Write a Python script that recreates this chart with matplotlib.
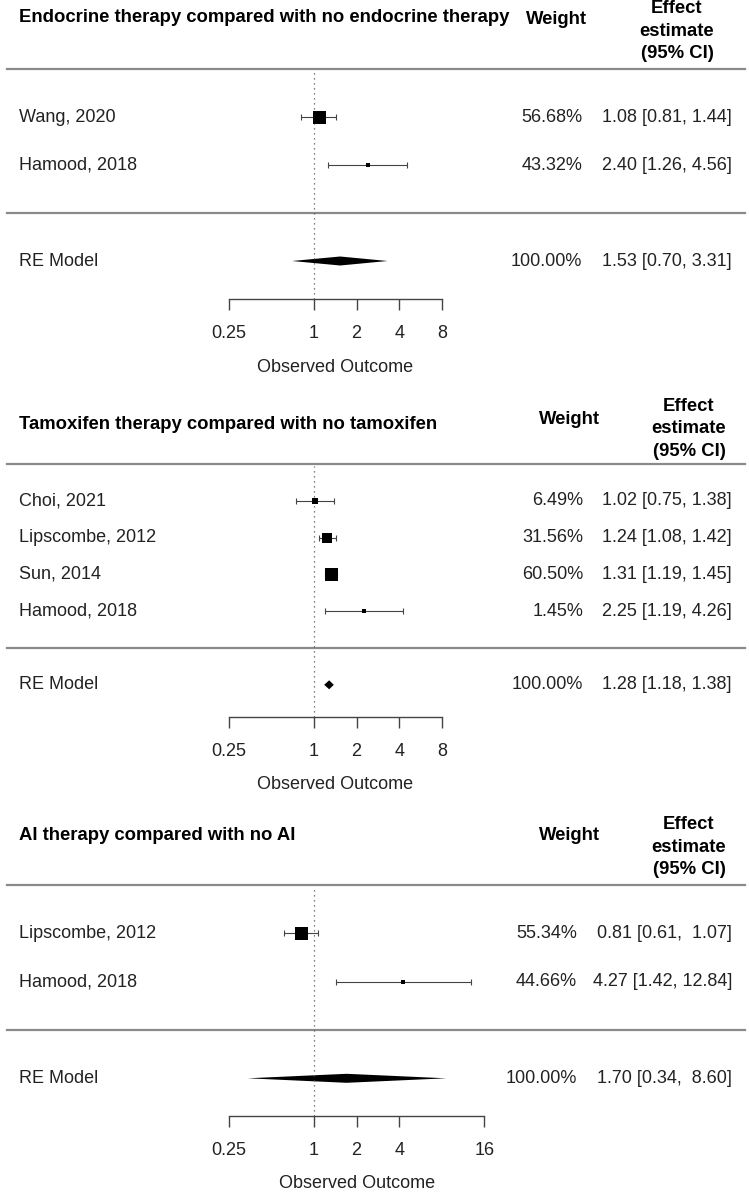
import matplotlib
matplotlib.use("Agg")
import matplotlib.pyplot as plt
import matplotlib.transforms as mtransforms
from matplotlib.patches import Polygon
from matplotlib.ticker import NullLocator
import numpy as np

plt.rcParams['font.family'] = ['Liberation Sans', 'DejaVu Sans']

W, H = 749, 1195
X_ONE = 314.0        # pixel column of x = 1
PX_PER_DOUBLING = 42.6

# ===========================
# Data
# ===========================
endo_title = "Endocrine therapy compared with no endocrine therapy"
endo_studies = ["Wang, 2020", "Hamood, 2018"]
endo_est = [1.08, 2.40]
endo_lo = [0.81, 1.26]
endo_hi = [1.44, 4.56]
endo_weight = [56.68, 43.32]
endo_re = [1.53, 0.70, 3.31]
endo_ticks = [0.25, 1, 2, 4, 8]

tam_title = "Tamoxifen therapy compared with no tamoxifen"
tam_studies = ["Choi, 2021", "Lipscombe, 2012", "Sun, 2014", "Hamood, 2018"]
tam_est = [1.02, 1.24, 1.31, 2.25]
tam_lo = [0.75, 1.08, 1.19, 1.19]
tam_hi = [1.38, 1.42, 1.45, 4.26]
tam_weight = [6.49, 31.56, 60.50, 1.45]
tam_re = [1.28, 1.18, 1.38]
tam_ticks = [0.25, 1, 2, 4, 8]

ai_title = "AI therapy compared with no AI"
ai_studies = ["Lipscombe, 2012", "Hamood, 2018"]
ai_est = [0.81, 4.27]
ai_lo = [0.61, 1.42]
ai_hi = [1.07, 12.84]
ai_weight = [55.34, 44.66]
ai_re = [1.70, 0.34, 8.60]
ai_ticks = [0.25, 1, 2, 4, 16]

# ===========================
# Layout (pixels)
# ===========================
layouts = [
    dict(top=0, bottom=380, y0=213, sp=48.0, axis=299, xlab=367,
         title_y=18, weight_x=556, weight_y=20, eff_x=677, eff_y=31, pct_x=582),
    dict(top=380, bottom=800, y0=648, sp=36.8, axis=717, xlab=785,
         title_y=425, weight_x=569, weight_y=420, eff_x=689, eff_y=429, pct_x=583),
    dict(top=800, bottom=1195, y0=1030, sp=48.3, axis=1116, xlab=1183,
         title_y=835, weight_x=569, weight_y=836, eff_x=689, eff_y=847, pct_x=577),
]

TEXT = '#222222'
FS = 13
FS_BOLD = 13.3

fig = plt.figure(figsize=(W / 100, H / 100), dpi=100)


def fmt_ci(est, lo, hi):
    """ R-style aligned 'est [lo, hi]' strings """
    e = [f"{v:.2f}" for v in est]
    l = [f"{v:.2f}" for v in lo]
    h = [f"{v:.2f}" for v in hi]
    we, wl, wh = max(map(len, e)), max(map(len, l)), max(map(len, h))
    return [f"{a.rjust(we)} [{b.rjust(wl)}, {c.rjust(wh)}]" for a, b, c in zip(e, l, h)]


def draw_panel(lay, title, studies, est, lo, hi, weight, re, ticks):
    top, bottom, y0, sp = lay['top'], lay['bottom'], lay['y0'], lay['sp']
    yd = lambda p: (y0 - p) / sp

    ax = fig.add_axes([0, 1 - bottom / H, 1, (bottom - top) / H])
    ax.patch.set_alpha(0)
    ax.set_xscale('log', base=2)
    for s in ['top', 'right', 'left']:
        ax.spines[s].set_visible(False)
    ax.set_yticks([])
    blend = mtransforms.blended_transform_factory(ax.transAxes, ax.transData)

    k = len(studies)
    ys = np.arange(k, 0, -1)
    est_a, lo_a, hi_a = np.array(est), np.array(lo), np.array(hi)
    w = np.sqrt(np.array(weight))

    # separators
    for yy in [k + 1, 0]:
        ax.axhline(yy, xmin=7 / W, xmax=745 / W, color='#8a8a8a', lw=1.6)

    # reference line at 1
    ax.plot([1, 1], [yd(lay['axis']), k + 0.95], ls=(0, (1, 3)), color='#555555', lw=0.9)

    # CIs and squares
    ax.errorbar(est_a, ys, xerr=[est_a - lo_a, hi_a - est_a], fmt='none',
                ecolor='#444444', elinewidth=0.8, capsize=2.4, capthick=0.8)
    sizes_px = 4.5 + (w - w.min()) / (w.max() - w.min()) * (13 - 4.5)
    for x, y, s in zip(est_a, ys, sizes_px):
        ax.plot(x, y, marker='s', ms=s * 0.72, color='black', mec='black', mew=0)

    # RE diamond
    h = 4.5 / sp
    ax.add_patch(Polygon([(re[1], -1), (re[0], -1 + h), (re[2], -1), (re[0], -1 - h)],
                         closed=True, color='black', lw=0))

    # left labels and right columns
    labels = studies + ["RE Model"]
    yrows = list(ys) + [-1]
    wtxt = [f"{v:.2f}%" for v in weight] + ["100.00%"]
    ctxt = fmt_ci(list(est) + [re[0]], list(lo) + [re[1]], list(hi) + [re[2]])
    for lab, y, wt, ct in zip(labels, yrows, wtxt, ctxt):
        ax.text(19 / W, y, lab, transform=blend, ha='left', va='center', fontsize=FS, color=TEXT)
        ax.text(lay['pct_x'] / W, y, wt, transform=blend, ha='right', va='center', fontsize=FS, color=TEXT)
        ax.text(732 / W, y, ct, transform=blend, ha='right', va='center', fontsize=FS, color=TEXT)

    # headers
    ax.text(19 / W, yd(lay['title_y']), title, transform=blend, ha='left', va='center',
            fontsize=FS_BOLD, fontweight='bold', color='black')
    ax.text(lay['weight_x'] / W, yd(lay['weight_y']), "Weight", transform=blend, ha='center',
            va='center', fontsize=FS_BOLD, fontweight='bold', color='black')
    ax.text(lay['eff_x'] / W, yd(lay['eff_y']), "Effect\nestimate\n(95% CI)", transform=blend,
            ha='center', va='center', fontsize=FS_BOLD, fontweight='bold', color='black',
            linespacing=1.4)

    # x axis
    ax.spines['bottom'].set_position(('data', yd(lay['axis'])))
    ax.spines['bottom'].set_bounds(ticks[0], ticks[-1])
    ax.spines['bottom'].set_linewidth(1.0)
    ax.spines['bottom'].set_color('#444444')
    ax.set_xticks(ticks)
    ax.set_xticklabels([f"{t:g}" for t in ticks])
    ax.xaxis.set_minor_locator(NullLocator())
    ax.tick_params(axis='x', direction='out', length=8, width=1.0, pad=11,
                   labelsize=FS, colors='#444444', labelcolor=TEXT)
    ax.text(np.sqrt(ticks[0] * ticks[-1]), yd(lay['xlab']), "Observed Outcome",
            ha='center', va='center', fontsize=FS, color=TEXT)

    ax.set_xlim(2 ** (-X_ONE / PX_PER_DOUBLING), 2 ** ((W - X_ONE) / PX_PER_DOUBLING))
    ax.set_ylim(yd(bottom), yd(top))
    return ax


draw_panel(layouts[0], endo_title, endo_studies, endo_est, endo_lo, endo_hi, endo_weight, endo_re, endo_ticks)
draw_panel(layouts[1], tam_title, tam_studies, tam_est, tam_lo, tam_hi, tam_weight, tam_re, tam_ticks)
draw_panel(layouts[2], ai_title, ai_studies, ai_est, ai_lo, ai_hi, ai_weight, ai_re, ai_ticks)

fig.savefig("out.png", dpi=100)
